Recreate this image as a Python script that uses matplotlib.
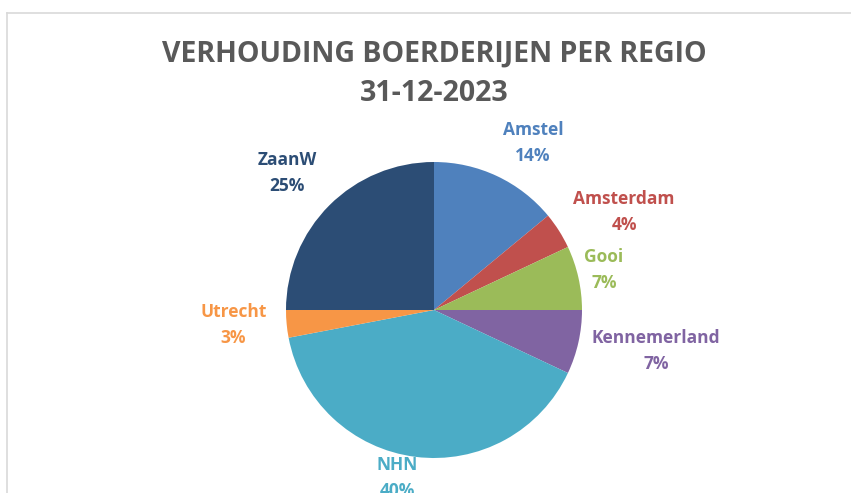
import matplotlib.pyplot as plt
import numpy as np
from matplotlib.lines import Line2D

# data
regions = ['Amstel', 'Amsterdam', 'Gooi', 'Kennemerland', 'NHN', 'Utrecht', 'ZaanW']
shares = [14, 4, 7, 7, 40, 3, 25]
colors = ['#4F81BD', '#C0504D', '#9BBB59', '#8064A2', '#4BACC6', '#F79646', '#2C4D75']
title = 'VERHOUDING BOERDERIJEN PER REGIO\n31-12-2023'

# label placement like excel's "best fit": distance (pie radii) and angle nudge (deg)
label_dist = [1.31, 1.445, 1.18, 1.525, 1.16, 1.36, 1.36]
label_turn = [-5.5, -5.1, 0.6, 2.1, -5.2, -1.1, 2.0]

plt.rcParams['font.family'] = ['Open Sans', 'DejaVu Sans']

W, H = 851, 493
fig = plt.figure(figsize=(W / 100, H / 100), dpi=100)

# pie: centre (434, 310) px, radius 148 px
cx, cy, r = 434, 310, 148
ax = fig.add_axes([(cx - r) / W, (H - cy - r) / H, 2 * r / W, 2 * r / H])
wedges, _ = ax.pie(shares, colors=colors, startangle=90, counterclock=False,
                   wedgeprops=dict(linewidth=0))
ax.set_xlim(-1, 1)
ax.set_ylim(-1, 1)
ax.set_aspect('equal')

for w, name, val, col, d, t in zip(wedges, regions, shares, colors, label_dist, label_turn):
    ang = np.deg2rad((w.theta1 + w.theta2) / 2 + t)
    ax.text(d * np.cos(ang), d * np.sin(ang), f'{name}\n{val}%', color=col,
            ha='center', va='center', fontsize=12.5, fontweight='bold',
            linespacing=1.55, clip_on=False)

fig.text(cx / W, 1 - 74 / H, title, ha='center', va='center', fontsize=20.5,
         fontweight='bold', color='#595959', linespacing=1.45)

# chart area border (only top and left visible in the crop)
fig.add_artist(Line2D([7 / W, 1], [1 - 13 / H] * 2, color='#d9d9d9', lw=1.2))
fig.add_artist(Line2D([7 / W] * 2, [0, 1 - 13 / H], color='#d9d9d9', lw=1.2))

fig.savefig('out.png', dpi=100)
